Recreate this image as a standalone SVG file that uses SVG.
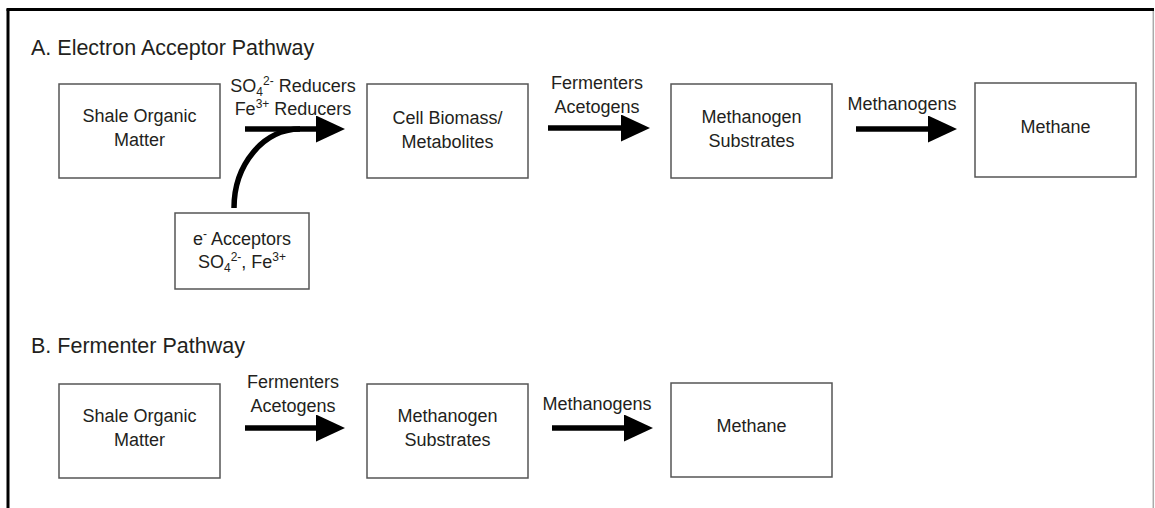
<svg xmlns="http://www.w3.org/2000/svg" width="1155" height="508" viewBox="0 0 1155 508">
<style>
  .box { fill: #fff; stroke: #555; stroke-width: 1.5; }
  .t { font-family: "Liberation Sans", Arial, sans-serif; font-size: 18px; fill: #231f20; text-anchor: middle; }
  .title { font-family: "Liberation Sans", Arial, sans-serif; font-size: 21.5px; fill: #231f20; }
  .conn { stroke: #000; stroke-width: 5.5; fill: none; }
  .arrow { marker-end: url(#head); }
</style>
<defs>
  <marker id="head" markerUnits="userSpaceOnUse" markerWidth="29" markerHeight="27" refX="5" refY="13.5" orient="auto" viewBox="0 0 29 27">
    <path d="M0,0 L29,13.5 L0,27 Z" fill="#000"/>
  </marker>
</defs>
<rect width="1155" height="508" fill="#fff"/>
<!-- frame -->
<g id="frame">
  <line x1="6.5" y1="9.5" x2="1154" y2="9.5" stroke="#000" stroke-width="3"/>
  <line x1="8" y1="9" x2="8" y2="508" stroke="#000" stroke-width="3"/>
  <line x1="1153.3" y1="11" x2="1153.3" y2="508" stroke="#aaa" stroke-width="1.5"/>
</g>
<text class="title" x="31" y="55">A. Electron Acceptor Pathway</text>
<text class="title" x="31" y="353">B. Fermenter Pathway</text>

<g id="connectors">
  <line class="conn arrow" x1="245" y1="129" x2="321" y2="129"/>
  <path class="conn" d="M234,208 A66,79 0 0 1 300,129"/>
  <line class="conn arrow" x1="548" y1="128" x2="626" y2="128"/>
  <line class="conn arrow" x1="856" y1="129" x2="933" y2="129"/>
  <line class="conn arrow" x1="245" y1="428" x2="321" y2="428"/>
  <line class="conn arrow" x1="552" y1="428" x2="629" y2="428"/>
  <text class="t" x="293" y="92">SO<tspan font-size="12" dy="4">4</tspan><tspan font-size="12" dy="-11">2-</tspan><tspan dy="7"> Reducers</tspan></text>
  <text class="t" x="293" y="115">Fe<tspan font-size="12" dy="-7">3+</tspan><tspan dy="7"> Reducers</tspan></text>
  <text class="t" x="597" y="89">Fermenters</text>
  <text class="t" x="597" y="113">Acetogens</text>
  <text class="t" x="902" y="110">Methanogens</text>
  <text class="t" x="293" y="388">Fermenters</text>
  <text class="t" x="293" y="412">Acetogens</text>
  <text class="t" x="597" y="410">Methanogens</text>
</g>

<g id="a-shale">
  <rect class="box" x="59" y="84" width="161" height="94"/>
  <text class="t" x="139.5" y="122">Shale Organic</text>
  <text class="t" x="139.5" y="146">Matter</text>
</g>
<g id="a-biomass">
  <rect class="box" x="367" y="84" width="161" height="94"/>
  <text class="t" x="447.5" y="124">Cell Biomass/</text>
  <text class="t" x="447.5" y="148">Metabolites</text>
</g>
<g id="a-substrates">
  <rect class="box" x="671" y="84" width="161" height="94"/>
  <text class="t" x="751.5" y="123">Methanogen</text>
  <text class="t" x="751.5" y="147">Substrates</text>
</g>
<g id="a-methane">
  <rect class="box" x="975" y="83" width="161" height="94"/>
  <text class="t" x="1055.5" y="133">Methane</text>
</g>
<g id="a-acceptors">
  <rect class="box" x="175" y="213" width="134" height="76"/>
  <text class="t" x="242" y="245">e<tspan font-size="12" dy="-7">-</tspan><tspan dy="7"> Acceptors</tspan></text>
  <text class="t" x="242" y="268">SO<tspan font-size="12" dy="4">4</tspan><tspan font-size="12" dy="-11">2-</tspan><tspan dy="7">, Fe</tspan><tspan font-size="12" dy="-7">3+</tspan></text>
</g>

<g id="b-shale">
  <rect class="box" x="59" y="384" width="161" height="94"/>
  <text class="t" x="139.5" y="422">Shale Organic</text>
  <text class="t" x="139.5" y="446">Matter</text>
</g>
<g id="b-substrates">
  <rect class="box" x="367" y="384" width="161" height="94"/>
  <text class="t" x="447.5" y="422">Methanogen</text>
  <text class="t" x="447.5" y="446">Substrates</text>
</g>
<g id="b-methane">
  <rect class="box" x="671" y="383" width="161" height="94"/>
  <text class="t" x="751.5" y="432">Methane</text>
</g>
</svg>
